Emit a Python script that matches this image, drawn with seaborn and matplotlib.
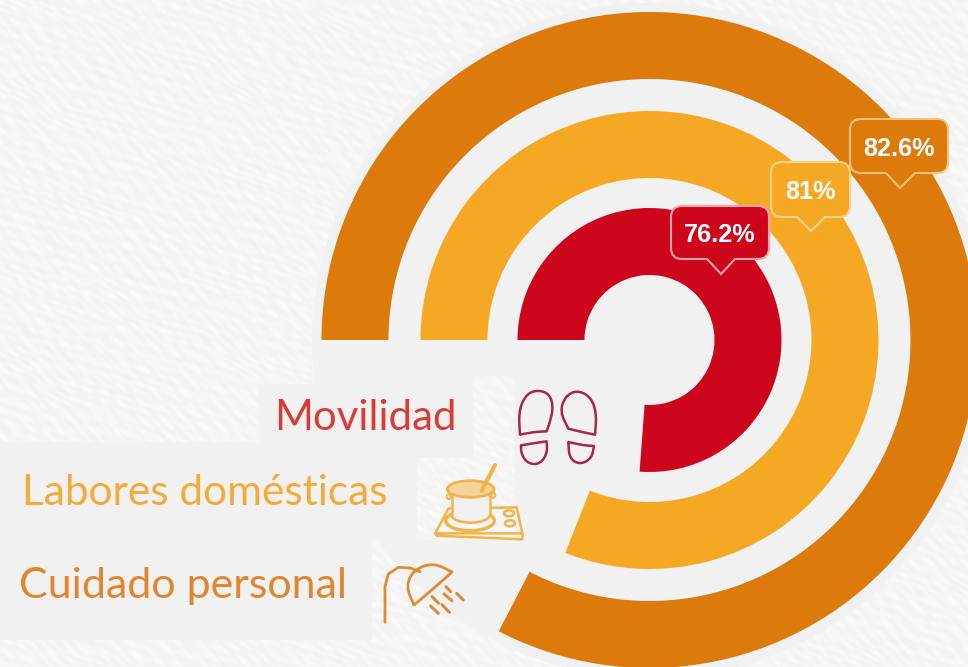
import numpy as np
import matplotlib
matplotlib.use("Agg")
import matplotlib.pyplot as plt
from matplotlib.path import Path
from matplotlib.patches import PathPatch, Ellipse
import seaborn as sns

# ---- data ----
categories = ["Cuidado personal", "Labores domésticas", "Movilidad"]
percent_values = [82.6, 81.0, 76.2]
percent_labels = ["82.6%", "81%", "76.2%"]
ring_colors = ["#dc7a0b", "#f5a824", "#cd061e"]
text_colors = ["#e2852f", "#f5aa3a", "#d93b37"]
edge_colors = ["#f6c27a", "#fbd48a", "#f6a5a5"]

W, H = 968, 667
sns.set_theme(style="white")
palette = sns.color_palette(ring_colors)

fig = plt.figure(figsize=(W / 100, H / 100), dpi=100)
ax = fig.add_axes([0, 0, 1, 1])


def Y(p):
    return H - p


CX, CY = 649.5, 340
# ---- paper background (deterministic texture) ----
xx, yy = np.meshgrid(np.arange(W), np.arange(H))
u = xx * 0.83 + yy * 0.56
v = -xx * 0.56 + yy * 0.83
warp = 5 * np.sin(u * 0.037 + 1.3 * np.sin(v * 0.053)) + 4 * np.sin(v * 0.071 + u * 0.019)
tex = (
    244.5
    + 2.4 * np.sin((v + warp) * 0.62) * np.sin(u * 0.131 + 1.4 * np.sin(v * 0.11))
    + 2.0 * np.sin((v - warp) * 0.41 + 1.0) * np.sin(u * 0.193 + 2.0 + 1.1 * np.sin(v * 0.07))
    + 1.6 * np.sin((u + 2 * warp) * 0.23) * np.sin(v * 0.83)
)
flat = (xx - CX) ** 2 + (yy - CY) ** 2 < 338 ** 2
flat |= (xx < 416) & (yy > 441) & (yy < 540)
flat |= (xx < 372) & (yy >= 540) & (yy < 640)
flat |= (xx > 258) & (xx < 472) & (yy > 383) & (yy <= 441)
flat &= ~((xx > 416) & (xx < 515) & (yy > 457) & (yy < 540))
flat &= ~((xx > 472) & (xx < 515) & (yy > 375) & (yy <= 457))
flat &= ~((xx > 372) & (xx < 465) & (yy > 620))
tex = np.where(flat, 241, tex)
ax.imshow(tex, cmap="gray", vmin=0, vmax=255, extent=(0, W, 0, H), origin="upper",
          interpolation="bilinear", zorder=0)

# ---- rings ----
radii = [328, 229, 132]
ring_width = 67
for val, rad, col in zip(percent_values, radii, palette):
    ax.pie([val, 100 - val], radius=rad, center=(CX, Y(CY)), startangle=180,
           counterclock=False, colors=[col, (0, 0, 0, 0)],
           wedgeprops=dict(width=ring_width, linewidth=0), frame=True)


# ---- value bubbles ----
def bubble(x0, x1, y0, y1, tip_x, tip_y, b0, b1, face, edge, label):
    r = 11
    y0p, y1p = Y(y0), Y(y1)
    v = [(x0 + r, y0p), (x1 - r, y0p), (x1, y0p), (x1, y0p - r), (x1, y1p + r), (x1, y1p),
         (x1 - r, y1p), (b1, y1p), (tip_x, Y(tip_y)), (b0, y1p), (x0 + r, y1p), (x0, y1p),
         (x0, y1p + r), (x0, y0p - r), (x0, y0p), (x0 + r, y0p), (x0 + r, y0p)]
    c = [Path.MOVETO, Path.LINETO, Path.CURVE3, Path.CURVE3, Path.LINETO, Path.CURVE3, Path.CURVE3,
         Path.LINETO, Path.LINETO, Path.LINETO, Path.LINETO, Path.CURVE3, Path.CURVE3, Path.LINETO,
         Path.CURVE3, Path.CURVE3, Path.CLOSEPOLY]
    ax.add_patch(PathPatch(Path(v, c), facecolor=face, edgecolor=edge, linewidth=1.5, zorder=5))
    ax.text((x0 + x1) / 2, (y0p + y1p) / 2, label, color="white", fontsize=18.2, fontweight="bold",
            family="Liberation Sans", ha="center", va="center_baseline", zorder=6)


bubble(850, 948, 119, 173, 900, 188, 886, 915, palette[0], edge_colors[0], percent_labels[0])
bubble(771, 850, 162, 217, 811, 231, 797, 825, palette[1], edge_colors[1], percent_labels[1])
bubble(671, 769, 206, 259, 721, 274, 707, 735, palette[2], edge_colors[2], percent_labels[2])

# ---- category labels ----
label_pos = [(19, 598), (22, 505), (274, 430)]
label_sizes = [31, 30.5, 30.2]
for name, (lx, ly), col, fs in zip(categories, label_pos, text_colors, label_sizes):
    ax.text(lx, Y(ly), name, color=col, fontsize=fs, family="Lato", ha="left", va="baseline", zorder=4)


# ---- icons (zoom-pixel helper) ----
def Z(p):
    return (320 + p[0] / 3, Y(370 + p[1] / 3))


def smooth(points, col, lw=1.8, fill="none", corners=()):
    """Closed spline through control points; indices in corners stay sharp."""
    seq = []
    for i, p in enumerate(points):
        seq.append(np.array(Z(p)))
        if i in corners:
            seq.append(np.array(Z(p)))
    n = len(seq)
    mids = [(seq[i] + seq[(i + 1) % n]) / 2 for i in range(n)]
    verts, codes = [mids[-1]], [Path.MOVETO]
    for i in range(n):
        verts += [seq[i], mids[i]]
        codes += [Path.CURVE3, Path.CURVE3]
    ax.add_patch(PathPatch(Path(verts, codes), facecolor=fill, edgecolor=col, linewidth=lw,
                           joinstyle="round", zorder=4))


def line(points, col, lw=1.8):
    pts = [Z(p) for p in points]
    ax.plot([p[0] for p in pts], [p[1] for p in pts], color=col, lw=lw, solid_capstyle="round", zorder=4)


def ell(c, w, h, col, lw=1.8, fill="none"):
    ax.add_patch(Ellipse(Z(c), w / 3, h / 3, facecolor=fill, edgecolor=col, linewidth=lw, zorder=4))


shoe = "#aa2743"
smooth([(600, 194), (596, 125), (615, 78), (645, 60), (685, 68), (700, 105), (692, 150), (680, 184), (640, 186)],
       shoe, corners=(0, 7))
smooth([(603, 226), (640, 220), (680, 214), (682, 250), (660, 282), (626, 282), (604, 255)], shoe, corners=(0, 2))
smooth([(825, 194), (785, 186), (745, 176), (720, 125), (735, 80), (770, 60), (812, 80), (830, 130)],
       shoe, corners=(0, 2))
smooth([(745, 216), (790, 226), (822, 228), (815, 265), (780, 284), (748, 265)], shoe, corners=(0, 2))

pot = "#f2b44a"
line([(346, 490), (385, 416), (590, 412), (607, 490), (607, 508), (350, 497), (346, 490), (607, 490)], pot)
ell((450, 452), 146, 60, pot, lw=2.4)
ax.add_patch(Ellipse(Z((452, 435)), 115 / 3, 46 / 3, facecolor="#f0f0f1", edgecolor=pot, linewidth=1.8, zorder=4))
ax.fill_between([Z((396, 0))[0], Z((509, 0))[0]], Z((0, 362))[1], Z((0, 435))[1], color="#f0f0f1", lw=0, zorder=4)
line([(396, 362), (396, 435)], pot)
line([(509, 362), (509, 435)], pot)
ell((452, 357), 140, 50, pot, lw=2.0, fill="#f3d49a")
line([(485, 362), (525, 285)], pot, lw=3)
ell((386, 380), 12, 14, pot, lw=1.4)
ell((520, 376), 12, 14, pot, lw=1.4)
ell((567, 430), 30, 18, pot)
ell((570, 460), 30, 18, pot)

shower = "#e08a36"
line([(195, 757), (195, 650), (205, 612), (235, 592), (270, 594), (300, 605)], shower, lw=2)
smooth([(282, 705), (330, 665), (396, 606), (340, 578), (280, 600), (258, 650)], shower, lw=2, corners=(0, 2))
for a, b in [((378, 650), (392, 665)), ((372, 672), (396, 692)), ((410, 670), (430, 690)),
             ((336, 680), (356, 700)), ((366, 704), (388, 727)), ((332, 708), (355, 730))]:
    line([a, b], shower, lw=2.2)

ax.set_xlim(0, W)
ax.set_ylim(0, H)
ax.set_aspect("auto")
ax.axis("off")
fig.savefig("out.png", dpi=100)
